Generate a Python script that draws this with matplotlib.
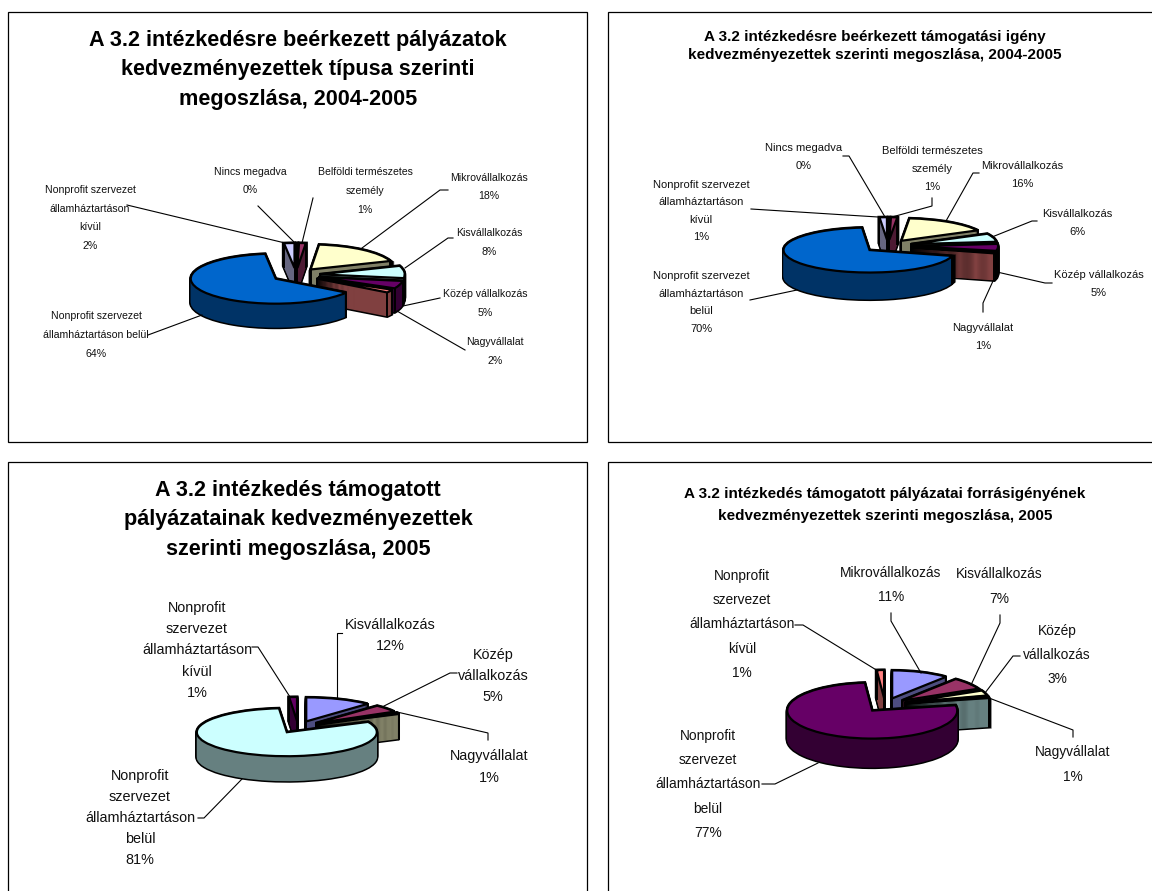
import numpy as np
import matplotlib
matplotlib.use("Agg")
import matplotlib.pyplot as plt
from matplotlib.patches import Wedge, Rectangle
from matplotlib.colors import to_rgb

plt.rcParams['font.family'] = ['Liberation Sans', 'DejaVu Sans']

# ---- data ----
categories_1 = ["Nincs megadva", "Belföldi természetes személy", "Mikrovállalkozás", "Kisvállalkozás",
                "Közép vállalkozás", "Nagyvállalat", "Nonprofit szervezet államháztartáson belül",
                "Nonprofit szervezet államháztartáson kívül"]
values_1 = [0.3, 1.3, 18, 8, 5, 2, 64, 2]
colors_1 = ["#9999FF", "#993366", "#FFFFCC", "#CCFFFF", "#660066", "#FF8080", "#0066CC", "#CCCCFF"]

categories_2 = categories_1
values_2 = [0.3, 1.2, 16, 6, 5, 1, 70, 1.4]
colors_2 = colors_1

categories_3 = ["Kisvállalkozás", "Közép vállalkozás", "Nagyvállalat",
                "Nonprofit szervezet államháztartáson belül", "Nonprofit szervezet államháztartáson kívül"]
values_3 = [12, 5, 1, 81, 1.4]
colors_3 = ["#9999FF", "#993366", "#FFFFCC", "#CCFFFF", "#660066"]

categories_4 = ["Mikrovállalkozás", "Kisvállalkozás", "Közép vállalkozás", "Nagyvállalat",
                "Nonprofit szervezet államháztartáson belül", "Nonprofit szervezet államháztartáson kívül"]
values_4 = [11, 7, 3, 1, 77, 1.4]
colors_4 = ["#9999FF", "#993366", "#FFFFCC", "#CCFFFF", "#660066", "#FF8080"]

title_1 = "A 3.2 intézkedésre beérkezett pályázatok\nkedvezményezettek típusa szerinti\nmegoszlása, 2004-2005"
title_2 = "A 3.2 intézkedésre beérkezett támogatási igény\nkedvezményezettek szerinti megoszlása, 2004-2005"
title_3 = "A 3.2 intézkedés támogatott\npályázatainak kedvezményezettek\nszerinti megoszlása, 2005"
title_4 = "A 3.2 intézkedés támogatott pályázatai forrásigényének\nkedvezményezettek szerinti megoszlása, 2005"

# ---- layout (pixels) ----
W, H = 1152, 891
panels = [
    dict(values=values_1, colors=colors_1, title=title_1, frame=(8, 12, 587, 442),
         tx=298, ty=(39, 101), tfs=15.6, tsp=31,
         c=(296, 275), a=85, b=25, d=24, e=0.28, fs=7.6, sp=20.8,
         wrap=["Nincs megadva", "Belföldi természetes\nszemély", "Mikrovállalkozás", "Kisvállalkozás",
               "Közép vállalkozás", "Nagyvállalat", "Nonprofit szervezet\nállamháztartáson belül",
               "Nonprofit szervezet\nállamháztartáson\nkívül"],
         pos=[(250, 171, 191), (365, 170, 212), (489, 176, 198), (489, 232, 253), (485, 293, 314),
              (495, 341, 362), (96, 314, 356), (90, 187, 249)],
         leaders=[[(258, 206), (295, 243)], [(313, 198), (302, 243)], [(448, 190), (440, 190), (362, 248)],
                  [(453, 238), (448, 238), (405, 268)], [(440, 298), (403, 306)],
                  [(465, 350), (397, 311)], [(148, 335), (202, 315)], [(127, 205), (285, 243)]]),
    dict(values=values_2, colors=colors_2, title=title_2, frame=(608, 12, 1160, 442),
         tx=875, ty=(36, 56), tfs=11.0, tsp=20,
         c=(888, 246), a=86, b=22.5, d=27, e=0.28, fs=8.0, sp=20.3,
         wrap=["Nincs megadva", "Belföldi természetes\nszemély", "Mikrovállalkozás", "Kisvállalkozás",
               "Közép vállalkozás", "Nagyvállalat", "Nonprofit szervezet\nállamháztartáson\nbelül",
               "Nonprofit szervezet\nállamháztartáson\nkívül"],
         pos=[(804, 147, 167), (932, 149, 189), (1022, 165, 185), (1077, 213, 233), (1099, 274, 294),
              (983, 327, 347), (701, 272, 333), (701, 181, 241)],
         leaders=[[(843, 156), (849, 156), (885, 217)], [(932, 198), (932, 206), (892, 217)],
                  [(979, 173), (973, 173), (946, 221)], [(1037, 221), (1032, 221), (992, 237)],
                  [(1052, 283), (1045, 283), (997, 272)], [(983, 312), (983, 303), (993, 281)],
                  [(750, 300), (797, 290)], [(751, 209), (878, 217)]]),
    dict(values=values_3, colors=colors_3, title=title_3, frame=(8, 462, 587, 900),
         tx=298, ty=(489, 551), tfs=15.6, tsp=31,
         c=(298, 727), a=90, b=24, d=25, e=0.25, fs=10.4, sp=22.4,
         wrap=["Kisvállalkozás", "Közép\nvállalkozás", "Nagyvállalat",
               "Nonprofit\nszervezet\nállamháztartáson\nbelül", "Nonprofit\nszervezet\nállamháztartáson\nkívül"],
         pos=[(390, 624, 647), (493, 654, 698), (489, 756, 778), (140, 773, 863), (197, 606, 695)],
         leaders=[[(342, 633), (337, 633), (337, 697)], [(457, 673), (450, 673), (384, 706)],
                  [(488, 740), (488, 733), (397, 712)], [(198, 818), (204, 818), (242, 779)],
                  [(252, 647), (258, 647), (290, 697)]]),
    dict(values=values_4, colors=colors_4, title=title_4, frame=(608, 462, 1160, 900),
         tx=885, ty=(492, 518), tfs=11.0, tsp=26,
         c=(885, 705), a=85, b=28, d=29, e=0.25, fs=9.9, sp=24.7,
         wrap=["Mikrovállalkozás", "Kisvállalkozás", "Közép\nvállalkozás", "Nagyvállalat",
               "Nonprofit\nszervezet\nállamháztartáson\nbelül", "Nonprofit\nszervezet\nállamháztartáson\nkívül"],
         pos=[(891, 573, 597), (999, 574, 599), (1057, 631, 679), (1073, 752, 777), (708, 735, 834), (742, 575, 674)],
         leaders=[[(891, 613), (891, 621), (921, 673)], [(1000, 615), (1000, 623), (971, 685)],
                  [(1020, 656), (1013, 656), (985, 693)], [(1073, 737), (1073, 730), (989, 698)],
                  [(762, 784), (775, 784), (818, 763)], [(795, 625), (803, 625), (878, 671)]]),
]

fig = plt.figure(figsize=(W / 100, H / 100), dpi=100, facecolor="white")
bg = fig.add_axes([0, 0, 1, 1], zorder=0)
bg.set_xlim(0, W)
bg.set_ylim(H, 0)
bg.axis("off")
fg = fig.add_axes([0, 0, 1, 1], zorder=5)
fg.set_xlim(0, W)
fg.set_ylim(H, 0)
fg.axis("off")
fg.patch.set_alpha(0)


def lsp(px, fs):
    return px / (0.94 * fs * 100 / 72)


def inside(w, x, y):
    """True when (x, y) falls within the wedge's angular span and radius."""
    dx, dy = x - w.center[0], y - w.center[1]
    if np.hypot(dx, dy) > w.r:
        return False
    ang = np.rad2deg(np.arctan2(dy, dx)) % 360
    t1, t2 = w.theta1 % 360, w.theta2 % 360
    return (t1 <= ang <= t2) if t1 <= t2 else (ang >= t1 or ang <= t2)


def pie3d(p):
    cx, cy = p["c"]
    a, b, d = p["a"], p["b"], p["d"]
    bw, bh = 300, 200
    ax = fig.add_axes([(cx - bw / 2) / W, 1 - (cy + bh / 2) / H, bw / W, bh / H], zorder=2)
    wedges, _ = ax.pie(p["values"], colors=p["colors"], explode=[p["e"]] * len(p["values"]),
                       startangle=90, counterclock=False, radius=1, center=(0, 0),
                       wedgeprops=dict(edgecolor="black", linewidth=1.6))
    ax.set_aspect("auto")
    ax.set_xlim(-bw / 2 / a, bw / 2 / a)
    ax.set_ylim(-bh / 2 / b, bh / 2 / b)
    ax.axis("off")
    dy = d / b

    def depth_key(w):
        mid = np.deg2rad((w.theta1 + w.theta2) / 2)
        return np.sin(mid)

    order = sorted(wedges, key=depth_key, reverse=True)
    for k, w in enumerate(order):
        base = 10 * (k + 1)
        rgb = np.array(to_rgb(w.get_facecolor()[:3])) * 0.5
        (x0, y0), r, t1, t2 = w.center, w.r, w.theta1, w.theta2
        steps = np.linspace(dy, 0, int(d) + 1)
        for s in steps:
            ax.add_patch(Wedge((x0, y0 - s), r, t1, t2, facecolor="black", edgecolor="black",
                               linewidth=2.2, zorder=base))
        for s in steps:
            ax.add_patch(Wedge((x0, y0 - s), r, t1, t2, facecolor=rgb, edgecolor="none",
                               linewidth=0, zorder=base + 1))
        corners = [(x0 + r * 0.999 * np.cos(np.deg2rad(t)), y0 + r * 0.999 * np.sin(np.deg2rad(t))) for t in (t1, t2)]
        corners.append((x0, y0))
        for ex, ey in corners:
            if not inside(w, ex, ey - 0.03):
                ax.plot([ex, ex], [ey, ey - dy], color="black", lw=1.4, zorder=base + 2)
        w.set_zorder(base + 3)


for p in panels:
    x0, y0, x1, y1 = p["frame"]
    bg.add_patch(Rectangle((x0, y0), x1 - x0, y1 - y0, facecolor="white", edgecolor="black", lw=0.9))
    bg.text(p["tx"], sum(p["ty"]) / 2, p["title"], ha="center", va="center", fontweight="bold",
            fontsize=p["tfs"], color="black", linespacing=lsp(p["tsp"], p["tfs"]))
    for (xa, ya, yb), label, v in zip(p["pos"], p["wrap"], p["values"]):
        bg.text(xa, (ya + yb) / 2, f"{label}\n{v:.0f}%", ha="center", va="center",
                fontsize=p["fs"], color="#111111", linespacing=lsp(p["sp"], p["fs"]))
    for pts in p["leaders"]:
        xs, ys = zip(*pts)
        fg.plot(xs, ys, color="black", lw=0.8, solid_joinstyle="miter")
    pie3d(p)

fig.savefig("out.png", dpi=100)
